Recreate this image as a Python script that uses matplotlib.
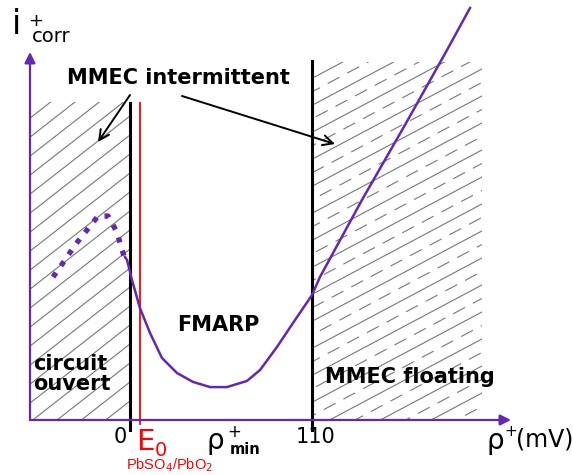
import numpy as np
import matplotlib
matplotlib.use("Agg")
import matplotlib.pyplot as plt
from matplotlib.patches import Rectangle

# pixel -> data scale (same in x and y)
k = 110 / 182.0

# polarisation curve (mV, arbitrary current units)
curve_x = [-3.0, -1.8, 1.2, 6.0, 12.1, 19.3, 28.4, 38.1, 48.4, 58.6, 70.7, 78.6,
           88.8, 98.5, 110.0, 114.8, 140.2, 166.2, 191.6, 205.5]
curve_y = [98.5, 96.7, 84.6, 67.7, 52.6, 37.5, 28.4, 23.0, 19.9, 19.9, 23.6, 30.2,
           44.1, 58.6, 75.5, 86.4, 133.0, 178.3, 223.6, 249.0]
# dotted part (open circuit)
dotted_x = [-46.5, -39.3, -33.2, -26.0, -19.3, -13.3, -7.9, -4.8, -2.4]
dotted_y = [86.4, 96.7, 105.8, 114.8, 123.3, 123.3, 113.6, 102.7, 95.5]

tick_x = [0, 110]
tick_labels = ["0", "110"]
e0_x = 6.0
rho_min_x = 52.6
left_zone = (-60.4, 0)
right_zone = (110, 212.7)

purple = "#6428b0"

fig = plt.figure(figsize=(5.73, 4.75), dpi=100)
ax = fig.add_axes([0, 0, 1, 1])
ax.set_xlim(-130 * k, 443 * k)
ax.set_ylim(-55 * k, 420 * k)
ax.axis("off")


def hatch(x0, x1, y0, y1, angle, step, dashed=False):
    clip = Rectangle((x0, y0), x1 - x0, y1 - y0, fill=False, lw=0)
    ax.add_patch(clip)
    t = np.tan(np.radians(angle))
    h = (x1 - x0) * t
    n = 0
    for c in np.arange(y0 - h, y1 + step, step):
        xs = np.array([x0, x1])
        ys = c + (xs - x0) * t
        ls = "-"
        if dashed and n % 2 == 1:
            ls = (4 * n % 20, (12, 8))
        ln, = ax.plot(xs, ys, color="#777777", lw=0.8, ls=ls)
        ln.set_clip_path(clip)
        n += 1


hatch(left_zone[0], left_zone[1], 0, 318 * k, 38, 19 * k)
hatch(right_zone[0], right_zone[1], 0, 358 * k, 28, 13.5 * k, dashed=True)

# axes arrows
ax.annotate("", xy=(-100 * k, 368 * k), xytext=(-100 * k, 0),
            arrowprops=dict(arrowstyle="-|>", color=purple, lw=1.6,
                            mutation_scale=16, shrinkA=0, shrinkB=0))
ax.annotate("", xy=(381 * k, 0), xytext=(-100 * k, 0),
            arrowprops=dict(arrowstyle="-|>", color=purple, lw=1.6,
                            mutation_scale=16, shrinkA=0, shrinkB=0))

# vertical lines
ax.plot([0, 0], [-10 * k, 317 * k], color="black", lw=2.2)
ax.plot([110, 110], [-10 * k, 359 * k], color="black", lw=2.2)
ax.plot([e0_x, e0_x], [-4 * k, 317 * k], color="red", lw=1.3)

# curve
ax.plot(curve_x, curve_y, color=purple, lw=1.8, solid_joinstyle="round")
ax.plot(dotted_x, dotted_y, color=purple, lw=3.8, dashes=(1, 1.6),
        dash_capstyle="butt")

# annotation arrows
ax.annotate("", xy=(-32 * k, 278 * k), xytext=(0, 325 * k),
            arrowprops=dict(arrowstyle="->", color="black", lw=1.4,
                            mutation_scale=18, shrinkA=0, shrinkB=0))
ax.annotate("", xy=(205 * k, 276 * k), xytext=(52 * k, 324 * k),
            arrowprops=dict(arrowstyle="->", color="black", lw=1.4,
                            mutation_scale=18, shrinkA=0, shrinkB=0))

bold = dict(fontweight="bold", fontsize=15, color="black")
ax.text(48 * k, 342 * k, "MMEC intermittent", ha="center", va="center", **bold)
ax.text(-97 * k, 46 * k, "circuit\nouvert", ha="left", va="center",
        linespacing=1.0, **bold)
ax.text(88 * k, 95 * k, "FMARP", ha="center", va="center", **bold)
ax.text(280 * k, 43 * k, "MMEC floating", ha="center", va="center", **bold)

# tick labels
for x, lab in zip(tick_x, tick_labels):
    ax.text(x - 10 * k + (14 * k if lab == "110" else 0), -17 * k, lab,
            ha="center", va="center", fontsize=15)

# E0 label
ax.text(e0_x + 5 * k, -22 * k, "E", color="red", fontsize=21,
        ha="center", va="center")
ax.text(e0_x + 21 * k, -31 * k, "0", color="red", fontsize=14,
        ha="center", va="center")
ax.text(e0_x + 30 * k, -45 * k, r"PbSO$_4$/PbO$_2$", color="red",
        fontsize=10.5, ha="center", va="center", family="Liberation Sans")

# rho_min label
ax.text(rho_min_x - 2 * k, -21 * k, "ρ", fontsize=20, ha="center", va="center")
ax.text(rho_min_x + 17 * k, -12 * k, "+", fontsize=12, ha="center", va="center")
ax.text(rho_min_x + 28 * k, -30 * k, "min", fontsize=10.5, fontweight="bold",
        ha="center", va="center")

# x axis name
ax.text(357 * k, -21 * k, "ρ", fontsize=20, ha="left", va="center")
ax.text(374 * k, -11 * k, "+", fontsize=11, ha="left", va="center")
ax.text(386 * k, -20 * k, "(mV)", fontsize=17, ha="left", va="center")

# y axis name
ax.text(-118 * k, 396 * k, "i", fontsize=24, ha="left", va="center")
ax.text(-102 * k, 399 * k, "+", fontsize=13, ha="left", va="center")
ax.text(-98 * k, 384 * k, "corr", fontsize=14, ha="left", va="center")

fig.savefig("out.png", dpi=100)
